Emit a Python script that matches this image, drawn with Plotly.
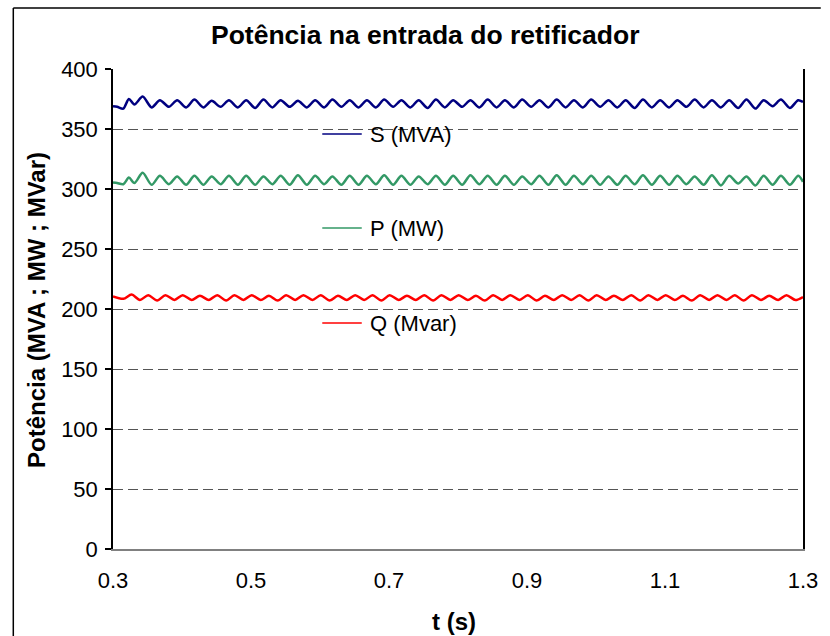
import plotly.graph_objects as go

# ---------------- data ----------------
t_SP = [0.300, 0.306, 0.315, 0.323, 0.331,
        0.343, 0.356, 0.368, 0.381, 0.393, 0.406, 0.418, 0.431, 0.443, 0.456,
        0.468, 0.481, 0.493, 0.506, 0.518, 0.531, 0.543, 0.556, 0.568, 0.581,
        0.593, 0.606, 0.618, 0.631, 0.643, 0.656, 0.668, 0.681, 0.693, 0.706,
        0.718, 0.731, 0.743, 0.756, 0.768, 0.781, 0.793, 0.806, 0.818, 0.831,
        0.843, 0.856, 0.868, 0.881, 0.893, 0.906, 0.918, 0.931, 0.943, 0.956,
        0.968, 0.981, 0.993, 1.006, 1.018, 1.031, 1.043, 1.056, 1.068, 1.081,
        1.093, 1.106, 1.118, 1.131, 1.143, 1.156, 1.168, 1.181, 1.193, 1.206,
        1.218, 1.231, 1.243, 1.256, 1.268, 1.281, 1.293, 1.300]

S_MVA = [369, 368.5, 367, 375, 370.5,
         377, 368, 374, 368.5, 374, 368, 374.5, 368, 373.5, 368.5,
         374, 368, 374, 367.5, 374.5, 368, 374, 368.5, 373.5, 368,
         374, 368, 374.5, 368.5, 374, 368, 374, 368, 374.5, 368.5,
         374, 368, 374, 367.5, 374.5, 368, 374, 368.5, 374, 368,
         374.5, 368, 374, 368, 374.5, 368.5, 374, 368, 374.5, 368,
         374, 368, 374.5, 368.5, 374, 368, 374, 367.5, 374.5, 368,
         374, 368, 374, 368.5, 374.5, 368, 374, 368, 374, 367.5,
         374.5, 367, 374, 369, 374.5, 367.5, 374, 372.5]

P_MW = [305.5, 305, 304, 309.5, 305,
        313.5, 303.5, 311, 304, 310.5, 303.5, 311, 303.5, 310.5, 304,
        311, 303.5, 311, 303.5, 310.5, 304, 311, 303.5, 311.5, 303.5,
        311, 304, 310.5, 303.5, 311, 303.5, 311, 304, 311.5, 303.5,
        311, 303.5, 310.5, 304, 311, 303.5, 311, 303.5, 311.5, 304,
        311, 303.5, 311, 303.5, 310.5, 304, 311, 303.5, 311.5, 303.5,
        311, 304, 311, 303.5, 310.5, 303.5, 311, 304, 311.5, 303.5,
        311, 303.5, 311, 304, 310.5, 303.5, 311.5, 303, 311, 304.5,
        310.5, 303, 311, 303.5, 311, 303.5, 311, 306]

t_Q = [0.300, 0.315, 0.327, 0.339,
       0.351, 0.364, 0.376, 0.389, 0.401, 0.414, 0.426, 0.439, 0.451, 0.464,
       0.476, 0.489, 0.501, 0.514, 0.526, 0.539, 0.551, 0.564, 0.576, 0.589,
       0.601, 0.614, 0.626, 0.639, 0.651, 0.664, 0.676, 0.689, 0.701, 0.714,
       0.726, 0.739, 0.751, 0.764, 0.776, 0.789, 0.801, 0.814, 0.826, 0.839,
       0.851, 0.864, 0.876, 0.889, 0.901, 0.914, 0.926, 0.939, 0.951, 0.964,
       0.976, 0.989, 1.001, 1.014, 1.026, 1.039, 1.051, 1.064, 1.076, 1.089,
       1.101, 1.114, 1.126, 1.139, 1.151, 1.164, 1.176, 1.189, 1.201, 1.214,
       1.226, 1.239, 1.251, 1.264, 1.276, 1.289, 1.300]

Q_Mvar = [210.5, 208.5, 212, 207.5,
          211.5, 207, 211.5, 207.5, 211.5, 207.5, 211, 207.5, 211.5, 207,
          211.5, 207.5, 211.5, 207.5, 211, 207, 211.5, 207.5, 211.5, 207.5,
          211.5, 207, 211, 207.5, 211.5, 207.5, 211.5, 207, 211.5, 207.5,
          211, 207.5, 211.5, 207, 211.5, 207.5, 211.5, 207.5, 211, 207,
          211.5, 207.5, 211.5, 207.5, 211.5, 207, 211, 207.5, 211.5, 207.5,
          211.5, 207, 211.5, 207.5, 211, 207.5, 211.5, 207, 211.5, 207.5,
          211.5, 207.5, 211, 207, 211.5, 207.5, 211.5, 207.5, 211.5, 207,
          211.5, 207.5, 211, 207.5, 211.5, 207.5, 210]

series_names = ["S (MVA)", "P (MW)", "Q (Mvar)"]
series_colors = ["#000080", "#339966", "#FF0000"]

x_ticks = [0.3, 0.5, 0.7, 0.9, 1.1, 1.3]
x_tick_labels = ["0.3", "0.5", "0.7", "0.9", "1.1", "1.3"]
y_ticks = [0, 50, 100, 150, 200, 250, 300, 350, 400]

title_text = "Potência na entrada do retificador"
x_title = "t (s)"
y_title = "Potência (MVA ; MW ; MVar)"

# ---------------- figure ----------------
FONT = "Liberation Sans, Arial, sans-serif"
W, H = 830, 636
L, R, T, B = 113, 18, 69, 87
PW, PH = W - L - R, H - T - B


def px_x(px):
    return (px - L) / PW


def px_y(py):
    return (H - B - py) / PH


fig = go.Figure()
xs = [t_SP, t_SP, t_Q]
ys = [S_MVA, P_MW, Q_Mvar]
for name, col, x, y in zip(series_names, series_colors, xs, ys):
    fig.add_trace(go.Scatter(x=x, y=y, mode="lines", name=name,
                             line=dict(color=col, width=2.5, shape="spline", smoothing=0.8),
                             showlegend=False))

shapes = []
# outer chart frame (top and left edges visible; right/bottom lie outside the view)
shapes.append(dict(type="line", xref="paper", yref="paper",
                   x0=px_x(12), x1=px_x(830), y0=px_y(8), y1=px_y(8),
                   line=dict(color="black", width=1.5), layer="below"))
shapes.append(dict(type="line", xref="paper", yref="paper",
                   x0=px_x(12), x1=px_x(12), y0=px_y(8), y1=px_y(636),
                   line=dict(color="black", width=1.5), layer="below"))
# legend box (white, covering gridlines)
shapes.append(dict(type="rect", xref="paper", yref="paper",
                   x0=px_x(313), x1=px_x(468), y0=px_y(345), y1=px_y(118),
                   fillcolor="white", line=dict(width=0), layer="between"))

annotations = []
legend_rows_py = [134, 228, 323]
for name, col, py in zip(series_names, series_colors, legend_rows_py):
    shapes.append(dict(type="line", xref="paper", yref="paper",
                       x0=px_x(325), x1=px_x(365), y0=px_y(py), y1=px_y(py),
                       line=dict(color=col, width=1.5), layer="above"))
    annotations.append(dict(text=name, xref="paper", yref="paper",
                            x=px_x(371), y=px_y(py), xanchor="left", yanchor="middle",
                            showarrow=False, font=dict(family=FONT, size=22, color="black")))

annotations.append(dict(text="<b>" + title_text + "</b>", xref="paper", yref="paper",
                        x=px_x(430), y=px_y(35), xanchor="center", yanchor="middle",
                        showarrow=False, font=dict(family=FONT, size=26.5, color="black")))
annotations.append(dict(text="<b>" + x_title + "</b>", xref="paper", yref="paper",
                        x=px_x(458), y=px_y(621), xanchor="center", yanchor="middle",
                        showarrow=False, font=dict(family=FONT, size=24, color="black")))
annotations.append(dict(text="<b>" + y_title + "</b>", xref="paper", yref="paper",
                        x=px_x(35), y=px_y(310), xanchor="center", yanchor="middle",
                        textangle=-90,
                        showarrow=False, font=dict(family=FONT, size=24, color="black")))

fig.update_layout(
    width=W, height=H,
    margin=dict(l=L, r=R, t=T, b=B, pad=0),
    paper_bgcolor="white", plot_bgcolor="white",
    font=dict(family=FONT, size=22, color="black"),
    shapes=shapes, annotations=annotations,
    xaxis=dict(range=[0.3, 1.3], tickmode="array", tickvals=x_ticks,
               ticktext=x_tick_labels,
               showgrid=False, zeroline=False,
               showline=True, linecolor="#808080", linewidth=2,
               ticks="", ticklabelstandoff=11,
               tickfont=dict(family=FONT, size=22, color="black")),
    yaxis=dict(range=[0, 400], tickmode="array", tickvals=y_ticks,
               showgrid=True, gridcolor="#555555", gridwidth=1,
               griddash="10px,5px",
               zeroline=False,
               showline=True, linecolor="black", linewidth=1.5, mirror=True,
               ticks="outside", ticklen=6, tickcolor="black", tickwidth=1.5,
               ticklabelstandoff=3,
               tickfont=dict(family=FONT, size=22, color="black")),
)

fig.write_html("out.html", config={"displayModeBar": False},
               post_script="document.body.style.margin='0';")
